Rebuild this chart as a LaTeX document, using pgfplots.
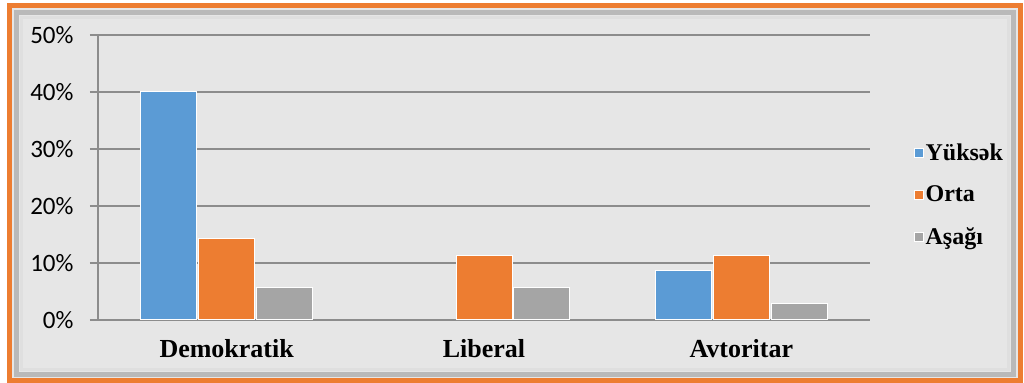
\documentclass[border=0pt]{standalone}
\usepackage{pgfplots}
\pgfplotsset{compat=1.18}
\usepackage{fontspec}
\setmainfont{Liberation Serif}
\newfontfamily\carlito{Carlito}
\definecolor{cblue}{RGB}{91,155,213}
\definecolor{corange}{RGB}{237,125,49}
\definecolor{cgray}{RGB}{165,165,165}
\definecolor{frameorange}{RGB}{237,125,49}
\definecolor{marble}{RGB}{230,230,230}
\definecolor{axgray}{RGB}{140,140,140}
\begin{document}
\begin{tikzpicture}
\useasboundingbox (0,0) rectangle (1024bp,383bp);
\fill[marble] (9bp,2bp) rectangle (1021bp,378bp);
\draw[gray!55,line width=5bp] (16bp,8bp) rectangle (1013bp,370bp);
\draw[gray!25,line width=3bp] (21bp,13bp) rectangle (1008bp,365bp);
\draw[frameorange,line width=5bp] (9.5bp,2.5bp) rectangle (1020.5bp,377.5bp);
\begin{axis}[
  at={(98bp,63bp)}, anchor=south west,
  scale only axis, width=772bp, height=285bp,
  ybar, bar width=56bp,
  xmin=-0.5, xmax=2.5, ymin=0, ymax=50,
  axis x line*=bottom, axis y line*=left,
  axis line style={axgray, line width=1.2bp},
  xtick={0,1,2},
  xticklabels={Demokratik,Liberal,Avtoritar},
  xtick style={draw=none},
  minor xtick={-0.5,0.5,1.5,2.5},
  minor x tick style={axgray, line width=1.2bp},
  minor tick length=7bp,
  ytick={0,10,20,30,40,50},
  ytick style={axgray, line width=1.2bp},
  major tick length=8bp,
  tick align=outside,
  ymajorgrids,
  grid style={axgray, line width=1.2bp},
  /pgf/number format/assume math mode=true,
  yticklabel={\pgfmathprintnumber{\tick}\%},
  yticklabel style={font=\carlito\fontsize{25bp}{30bp}\selectfont, xshift=-13bp},
  xticklabel style={font=\bfseries\fontsize{26bp}{31bp}\selectfont, yshift=-8bp},
  legend style={at={(1.053,0.44)}, anchor=west, draw=none, fill=none,
    font=\bfseries\fontsize{24bp}{28bp}\selectfont, row sep=20bp,
    legend cell align=left},
  legend image code/.code={\draw[#1,draw=white,line width=0.5bp] (0bp,-4.5bp) rectangle (9bp,4.5bp);},
]
\addplot[fill=cblue, draw=white, line width=1bp] coordinates {(0,40) (2,8.6)};
\addplot[fill=corange, draw=white, line width=1bp] coordinates {(0,14.3) (1,11.4) (2,11.4)};
\addplot[fill=cgray, draw=white, line width=1bp] coordinates {(0,5.7) (1,5.7) (2,2.9)};
\legend{Yüksək,Orta,Aşağı}
\end{axis}
\end{tikzpicture}
\end{document}
